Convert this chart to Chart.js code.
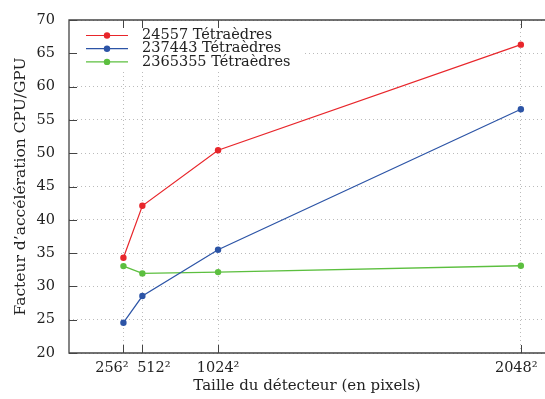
<!DOCTYPE html>
<html>
<head>
<meta charset="utf-8">
<script src="https://cdn.jsdelivr.net/npm/chart.js@4/dist/chart.umd.min.js"></script>
<style>
html,body{margin:0;padding:0;background:#fff;overflow:hidden;width:545px;height:399px;}
canvas{display:block;}
</style>
</head>
<body>
<canvas id="c" width="545" height="399"></canvas>
<script>
// Detector sizes (pixel counts) and tick labels
const detectorPixels = [65536, 262144, 1048576, 4194304];
const tickLabels = ['256\u00B2     ', '     512\u00B2', '1024\u00B2', '2048\u00B2  '];
const seriesNames = ['24557 Tétraèdres', '237443 Tétraèdres', '2365355 Tétraèdres'];
const speedup24557 = [34.3, 42.1, 50.45, 66.3];
const speedup237443 = [24.55, 28.55, 35.5, 56.6];
const speedup2365355 = [33.05, 31.95, 32.15, 33.1];
const yTickValues = [20, 25, 30, 35, 40, 45, 50, 55, 60, 65, 70];

const colors = ['#e8262b', '#2c54a6', '#5cbf3f'];
const FONT = '"DejaVu Serif", "Liberation Serif", serif';
const FS = 14.5;

function pts(vals){ return vals.map((v,i)=>({x: detectorPixels[i], y: v})); }

const frameTicks = {
  id: 'frameTicks',
  afterDatasetsDraw(chart){
    const ctx = chart.ctx, a = chart.chartArea;
    ctx.save();
    ctx.fillStyle = '#fff';
    ctx.fillRect(a.left+1, a.top+1, 232, 49);
    chart.data.datasets.forEach((ds, i) => {
      const y = 35.5 + i*13.2;
      ctx.strokeStyle = ds.borderColor;
      ctx.lineWidth = ds.borderWidth;
      ctx.beginPath(); ctx.moveTo(86, y); ctx.lineTo(128, y); ctx.stroke();
      ctx.fillStyle = ds.backgroundColor;
      ctx.beginPath(); ctx.arc(107, y, 3.2, 0, Math.PI*2); ctx.fill();
      ctx.fillStyle = '#222';
      ctx.font = FS + 'px ' + FONT;
      ctx.textBaseline = 'middle';
      ctx.textAlign = 'left';
      ctx.fillText(ds.label, 142, y);
    });
    ctx.restore();
  },
  afterDraw(chart){
    const ctx = chart.ctx, a = chart.chartArea;
    const xs = chart.scales.x, ys = chart.scales.y;
    ctx.save();
    ctx.strokeStyle = '#444';
    ctx.lineWidth = 1.3;
    ctx.beginPath();
    ctx.moveTo(chart.width, a.top); ctx.lineTo(a.left, a.top);
    ctx.lineTo(a.left, a.bottom); ctx.lineTo(chart.width, a.bottom);
    ctx.stroke();
    ctx.lineWidth = 1;
    ctx.beginPath();
    detectorPixels.forEach(v => {
      const px = Math.round(xs.getPixelForValue(v)) + 0.5;
      ctx.moveTo(px, a.bottom); ctx.lineTo(px, a.bottom - 8);
      ctx.moveTo(px, a.top); ctx.lineTo(px, a.top + 8);
    });
    yTickValues.forEach(v => {
      const py = Math.round(ys.getPixelForValue(v)) + 0.5;
      ctx.moveTo(a.left, py); ctx.lineTo(a.left + 8, py);
    });
    ctx.stroke();
    ctx.restore();
  }
};

new Chart(document.getElementById('c'), {
  type: 'line',
  data: {
    datasets: [
      {label: seriesNames[0], data: pts(speedup24557), borderColor: colors[0], backgroundColor: colors[0], borderWidth: 1.2, pointRadius: 3.2, pointBorderWidth: 0},
      {label: seriesNames[1], data: pts(speedup237443), borderColor: colors[1], backgroundColor: colors[1], borderWidth: 1.2, pointRadius: 3.2, pointBorderWidth: 0},
      {label: seriesNames[2], data: pts(speedup2365355), borderColor: colors[2], backgroundColor: colors[2], borderWidth: 1.4, pointRadius: 3.2, pointBorderWidth: 0}
    ]
  },
  options: {
    responsive: false,
    animation: false,
    layout: {autoPadding: false, padding: {top: 20, right: 0, left: 0, bottom: 0}},
    plugins: {legend: {display: false}, tooltip: {enabled: false}},
    scales: {
      x: {
        type: 'linear',
        min: -500000,
        max: 4445000,
        afterBuildTicks(s){ s.ticks = detectorPixels.map(v => ({value: v})); },
        afterFit(s){ s.height = 46; s.paddingLeft = 0; s.paddingRight = 0; },
        grid: {color: '#bbbbbb', lineWidth: 1, drawTicks: false},
        border: {display: false, dash: [1, 3]},
        ticks: {
          autoSkip: false, maxRotation: 0, padding: 7,
          color: '#222', font: {family: FONT, size: FS},
          callback: (v) => { const i = detectorPixels.indexOf(v); return i >= 0 ? tickLabels[i] : ''; }
        },
        title: {display: true, text: 'Taille du détecteur (en pixels)', color: '#222', font: {family: FONT, size: 15}, padding: {top: 0, bottom: 4}}
      },
      y: {
        min: 20,
        max: 70,
        afterBuildTicks(s){ s.ticks = yTickValues.map(v => ({value: v})); },
        afterFit(s){ s.width = 69; s.paddingTop = 0; s.paddingBottom = 0; },
        grid: {color: '#bbbbbb', lineWidth: 1, drawTicks: false},
        border: {display: false, dash: [1, 3]},
        ticks: {padding: 14, color: '#222', font: {family: FONT, size: FS}},
        title: {display: true, text: 'Facteur d\u2019accélération CPU/GPU', color: '#222', font: {family: FONT, size: 15.5}, padding: {top: 12, bottom: 0}}
      }
    }
  },
  plugins: [frameTicks]
});
</script>
</body>
</html>
